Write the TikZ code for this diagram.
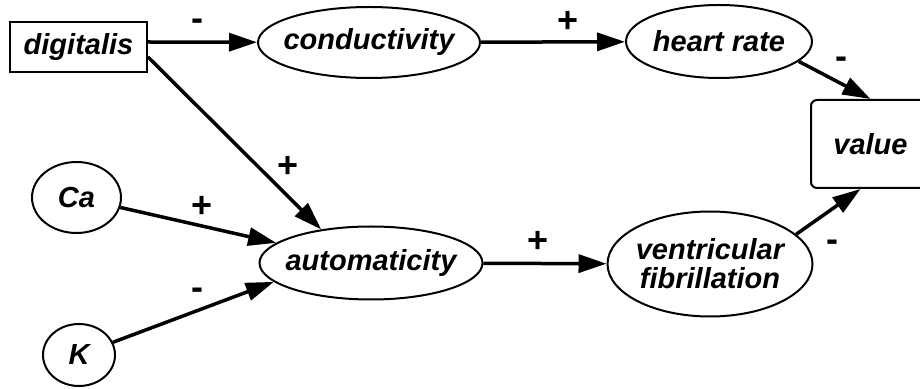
\documentclass[tikz,border=0pt]{standalone}
\usepackage{fontspec}
\setmainfont{Liberation Sans}
\usetikzlibrary{shapes.geometric,arrows.meta}

\tikzset{
  oval/.style={ellipse, draw, line width=1pt, inner sep=-4pt,
    font=\fontsize{14.5}{14.5}\selectfont\bfseries\itshape},
  box/.style={rectangle, draw, line width=1pt, inner sep=-4pt,
    font=\fontsize{14.5}{14.5}\selectfont\bfseries\itshape},
  link/.style={-{Triangle[length=14pt,width=9pt]}, line width=1.75pt},
  sign/.style={inner sep=0pt, text height=11.5pt, text depth=0pt,
    font=\fontsize{18}{18}\selectfont\bfseries}
}

\begin{document}
\begin{tikzpicture}[x=0.5pt, y=-0.5pt]
  \useasboundingbox (0,0) rectangle (920,389);

  % Düğümler
  \node[box, minimum width=68.5pt, minimum height=25pt] (digitalis) at (78.5,47) {digitalis};
  \node[oval, minimum width=111pt, minimum height=35.5pt] (conductivity) at (369,42.5) {conductivity};
  \node[oval, minimum width=93pt, minimum height=36.5pt] (heartrate) at (719,41.5) {heart rate};
  \node[box, rounded corners=3pt, minimum width=59.5pt, minimum height=44pt] (value) at (870.5,144) {value};
  \node[oval, minimum width=44.5pt, minimum height=35.5pt] (ca) at (76.5,197.5) {Ca};
  \node[oval, minimum width=36pt, minimum height=31pt] (k) at (79,355) {K};
  \node[oval, minimum width=111.5pt, minimum height=36.5pt] (automaticity) at (371,263) {automaticity};
  \node[oval, align=center, minimum width=102.5pt, minimum height=52.5pt] (vf) at (710,264) {ventricular\\fibrillation};

  % Oklar
  \draw[link] ([yshift=2.5pt]digitalis.east) -- (conductivity);
  \draw[link] (conductivity) -- (heartrate);
  \draw[link] (heartrate.-14) -- (value.north);
  \draw[link] ([yshift=-5pt]digitalis.east) -- (automaticity.146);
  \draw[link] (ca) -- (automaticity.168);
  \draw[link] (k) -- (automaticity.191);
  \draw[link] (automaticity) -- (vf);
  \draw[link] (vf.19) -- ([xshift=-5pt]value.south);

  % Etki işaretleri
  \foreach [count=\i] \x/\y/\s in {197/19/-, 568/21/+, 841/57/-, 288/166/+,
      202/206/+, 197/288/-, 538/241/+, 832/240/-} {
    \node[sign] (s\i) at (\x,\y) {\s};
  }
\end{tikzpicture}
\end{document}
